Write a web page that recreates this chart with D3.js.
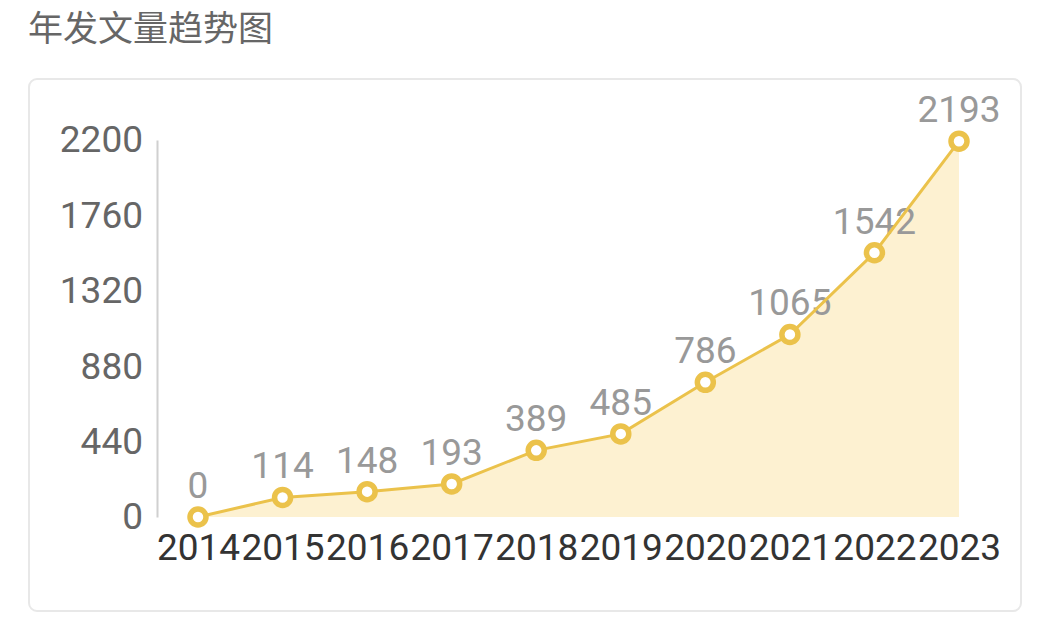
<!DOCTYPE html>
<meta charset="utf-8">
<html>
<head>
<script src="https://d3js.org/d3.v7.min.js"></script>
<style>
  body { margin: 0; background: #fff; }
</style>
</head>
<body>
<div id="my_dataviz"></div>
<script>

// data
var years = ["2014", "2015", "2016", "2017", "2018", "2019", "2020", "2021", "2022", "2023"];
var counts = [0, 114, 148, 193, 389, 485, 786, 1065, 1542, 2193];
var yTicks = [0, 440, 880, 1320, 1760, 2200];
var title = "年发文量趋势图";

var W = 1062, H = 628;
var lineColor = "#ebc24b";

var svg = d3.select("#my_dataviz")
  .append("svg")
    .attr("width", W)
    .attr("height", H);

// title
svg.append("text")
  .attr("x", 28)
  .attr("y", 41)
  .attr("fill", "#666")
  .style("font-family", "'Noto Sans CJK SC', sans-serif")
  .style("font-size", "35px")
  .text(title);

// card
svg.append("rect")
  .attr("x", 29)
  .attr("y", 79)
  .attr("width", 992)
  .attr("height", 532)
  .attr("rx", 8)
  .attr("fill", "#fff")
  .attr("stroke", "#e8e8e8")
  .attr("stroke-width", 2);

// scales
var x = d3.scalePoint()
  .domain(years)
  .range([198, 959]);

var y = d3.scaleLinear()
  .domain([0, 2200])
  .range([517, 140]);

var data = years.map(function(d, i) { return {year: d, value: counts[i]}; });

// y axis
var yAxis = svg.append("g")
  .attr("transform", "translate(157,0)")
  .call(d3.axisLeft(y).tickValues(yTicks).tickFormat(d3.format("d")).tickSize(0).tickPadding(14));
yAxis.select(".domain").attr("stroke", "#d0d0d0").attr("stroke-width", 2);
yAxis.selectAll("text")
  .attr("fill", "#666")
  .style("font-family", "Roboto, sans-serif")
  .style("font-size", "37px");

// x axis
var xAxis = svg.append("g")
  .attr("transform", "translate(0,517)")
  .call(d3.axisBottom(x).tickSize(0).tickPadding(17));
xAxis.select(".domain").remove();
xAxis.selectAll("text")
  .attr("fill", "#333")
  .style("font-family", "Roboto, sans-serif")
  .style("font-size", "37px");

// area
svg.append("path")
  .datum(data)
  .attr("fill", "#fdf1d1")
  .attr("d", d3.area()
    .x(function(d) { return x(d.year); })
    .y0(y(0))
    .y1(function(d) { return y(d.value); }));

// value labels
svg.selectAll(".vlabel")
  .data(data)
  .enter()
  .append("text")
    .attr("class", "vlabel")
    .attr("x", function(d) { return x(d.year); })
    .attr("y", function(d) { return y(d.value) - 19; })
    .attr("text-anchor", "middle")
    .attr("fill", "#999")
    .style("font-family", "Roboto, sans-serif")
    .style("font-size", "37px")
    .text(function(d) { return d.value; });

// line
svg.append("path")
  .datum(data)
  .attr("fill", "none")
  .attr("stroke", lineColor)
  .attr("stroke-width", 3)
  .attr("d", d3.line()
    .x(function(d) { return x(d.year); })
    .y(function(d) { return y(d.value); }));

// points
svg.selectAll(".pt")
  .data(data)
  .enter()
  .append("circle")
    .attr("class", "pt")
    .attr("cx", function(d) { return x(d.year); })
    .attr("cy", function(d) { return y(d.value); })
    .attr("r", 8)
    .attr("fill", "#fff")
    .attr("stroke", lineColor)
    .attr("stroke-width", 5.5);

</script>
</body>
</html>
